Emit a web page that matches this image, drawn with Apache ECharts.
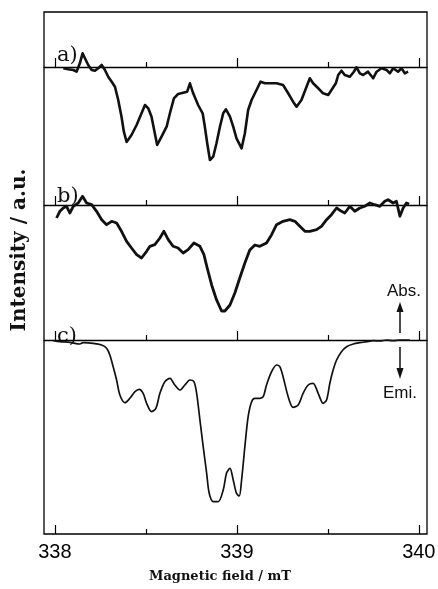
<!DOCTYPE html>
<html>
<head>
<meta charset="utf-8">
<script src="https://cdn.jsdelivr.net/npm/echarts@6/dist/echarts.min.js"></script>
<style>html,body{margin:0;padding:0;background:#fff}#c{width:438px;height:589px}</style>
</head>
<body>
<div id="c"></div>
<script>
// Magnetic field (mT) and intensity (a.u., baseline = 0, emission negative)
const fieldA = [338.046, 338.073, 338.101, 338.119, 338.137, 338.152, 338.165, 338.183, 338.202, 338.220, 338.238, 338.257, 338.275, 338.293, 338.312, 338.330, 338.348, 338.366, 338.379, 338.394, 338.421, 338.449, 338.476, 338.495, 338.513, 338.531, 338.549, 338.562, 338.586, 338.614, 338.632, 338.654, 338.677, 338.705, 338.727, 338.742, 338.760, 338.787, 338.812, 338.824, 338.837, 338.852, 338.870, 338.888, 338.907, 338.925, 338.940, 338.962, 338.980, 338.998, 339.026, 339.044, 339.062, 339.081, 339.108, 339.130, 339.154, 339.181, 339.218, 339.254, 339.282, 339.309, 339.328, 339.355, 339.383, 339.401, 339.419, 339.447, 339.474, 339.502, 339.520, 339.544, 339.557, 339.575, 339.593, 339.621, 339.643, 339.658, 339.676, 339.694, 339.721, 339.749, 339.768, 339.795, 339.823, 339.841, 339.859, 339.886, 339.905, 339.923, 339.941];
const intensityA = [-1.3, -2.3, -3, -4.7, 3.7, 13.7, 8.7, 2, -3, -3.7, -1.3, 2, -3, -9.7, -14.7, -19.7, -33, -49.7, -64.7, -75, -68, -58, -46.3, -38, -41.3, -49.7, -66.3, -78, -69.7, -59.7, -46.3, -31.3, -27, -25.7, -24.7, -16.3, -26.3, -38, -46.3, -59.7, -76.3, -93, -89.7, -76.3, -59.7, -46.3, -42.3, -49.7, -59.7, -71.3, -81.3, -66.3, -43, -33, -23, -14.7, -16.3, -16.3, -16.3, -18, -26.3, -34.7, -39.7, -33, -19.7, -11.3, -16.3, -21.3, -26.3, -28, -23, -16.3, -8, -3.7, -8, -9.7, -4.7, -0.3, -6.3, -8, -4.7, -11.3, -4.7, -1.3, -3, -6.3, -1.3, -4.7, -1.3, -6.3, -4.7];

const fieldB = [338.009, 338.027, 338.046, 338.064, 338.082, 338.101, 338.128, 338.152, 338.174, 338.202, 338.229, 338.257, 338.284, 338.312, 338.339, 338.366, 338.394, 338.421, 338.449, 338.476, 338.504, 338.522, 338.549, 338.577, 338.599, 338.623, 338.650, 338.677, 338.705, 338.732, 338.764, 338.797, 338.819, 338.837, 338.861, 338.888, 338.916, 338.934, 338.962, 338.989, 339.016, 339.044, 339.071, 339.099, 339.126, 339.163, 339.191, 339.218, 339.254, 339.291, 339.319, 339.346, 339.374, 339.401, 339.438, 339.465, 339.493, 339.520, 339.548, 339.575, 339.593, 339.621, 339.648, 339.676, 339.703, 339.731, 339.758, 339.786, 339.813, 339.831, 339.859, 339.877, 339.896, 339.914, 339.932, 339.947];
const intensityB = [-13, -6.3, -3, -1.3, -8, -1.3, 2, 8.7, 2, 0.3, -6.3, -14.7, -19.7, -16.3, -18, -26.3, -36.3, -43, -49.7, -53, -46.3, -41.3, -39.7, -33, -26.3, -34.7, -41.3, -43, -48, -44.7, -38, -41.3, -49.7, -63, -79.7, -94.7, -106, -106, -100, -88, -73, -58, -45, -40, -41.3, -38, -29.7, -19.7, -16.3, -14.7, -16.3, -21.3, -26.3, -26.3, -24.7, -21.3, -14.7, -9.7, -3, -6.3, -8, -1.3, -6.3, -3, -1.3, 2, 0.3, -1.3, 3.7, 5.3, 2, 3.7, -11.3, -3, 2, 1];

const fieldC = [337.991, 338.027, 338.082, 338.137, 338.155, 338.210, 338.257, 338.284, 338.302, 338.320, 338.339, 338.357, 338.385, 338.412, 338.440, 338.463, 338.485, 338.504, 338.531, 338.555, 338.577, 338.604, 338.632, 338.659, 338.687, 338.714, 338.742, 338.764, 338.779, 338.797, 338.815, 338.834, 338.848, 338.870, 338.897, 338.925, 338.943, 338.962, 338.980, 338.998, 339.013, 339.026, 339.044, 339.062, 339.081, 339.099, 339.126, 339.145, 339.163, 339.191, 339.218, 339.236, 339.254, 339.282, 339.309, 339.337, 339.364, 339.392, 339.419, 339.447, 339.474, 339.493, 339.511, 339.529, 339.548, 339.575, 339.603, 339.640, 339.676, 339.713, 339.749, 339.786, 339.823, 339.859, 339.896, 339.951];
const intensityC = [-0.7, -1.7, -2.3, -4, -2.7, -3.3, -5, -8.3, -15, -26.7, -40, -55, -62.7, -58.3, -51.7, -49.3, -53.3, -63.3, -71.7, -68.3, -53.3, -41.7, -38.3, -45, -50, -45, -40, -41.7, -53.3, -80, -106.7, -133.3, -153.3, -161.7, -161.7, -150, -133.3, -128.3, -140, -153.3, -156, -140, -106.7, -76.7, -61.7, -58.3, -58.3, -56.7, -45, -31.7, -25, -26.7, -36.7, -56.7, -67.3, -65, -53.3, -45, -43.3, -53.3, -63.3, -60, -43.3, -30, -20, -11.7, -6.7, -4, -2.7, -1.7, -0.7, -1, 0, -0.7, 0, 0];

const majorTicks = [338, 339, 340];
const minorTicks = [338.5, 339.5];
const tickLabels = [338, 339, 340];
const panelLabels = ['a)', 'b)', 'c)'];

const zip = (xs, ys) => xs.map((x, i) => [x, ys[i]]);
const X_MIN = 337.94, X_MAX = 340.045;

const grids = [
  {left: 44, right: 11, top: 12, bottom: 55, show: true, borderColor: '#000', borderWidth: 1.3, backgroundColor: 'transparent', outerBoundsMode: 'none'},
  {left: 44, right: 11, top: 12, height: 156, outerBoundsMode: 'none'},
  {left: 44, right: 11, top: 168, height: 152, outerBoundsMode: 'none'},
  {left: 44, right: 11, top: 303, height: 231, outerBoundsMode: 'none'}
];
const yRanges = [[0, 1], [-101, 55], [-115, 37], [-194, 37]];

function xAx(gi, ticks, len, withLine, labels, zeroIdx) {
  return {
    type: 'value', gridIndex: gi, min: X_MIN, max: X_MAX, position: 'bottom',
    axisLine: {show: withLine, onZero: gi !== 0, onZeroAxisIndex: zeroIdx, lineStyle: {color: '#000', width: 1.3}},
    axisTick: {show: true, inside: true, length: len, customValues: ticks, lineStyle: {color: '#000', width: 1.2}},
    axisLabel: labels ? {show: true, customValues: labels, color: '#000', fontSize: 20, fontFamily: 'Liberation Sans', margin: 8} : {show: false},
    splitLine: {show: false}
  };
}

const xAxes = [];
for (let g = 0; g < 4; g++) {
  xAxes.push(xAx(g, majorTicks, 9, g !== 0, g === 0 ? tickLabels : null, g));
  xAxes.push(xAx(g, minorTicks, 5, false, null, g + 4));
}
// primary value axes (0..3) and twin axes (4..7) used as zero references for the half-mT tick rows
const yAxes = yRanges.concat(yRanges).map((r, i) => ({type: 'value', gridIndex: i % 4, min: r[0], max: r[1], show: false, splitLine: {show: false}}));

function curve(name, gi, data, width, smooth) {
  return {
    name, type: 'line', xAxisIndex: gi * 2, yAxisIndex: gi, data, showSymbol: false, symbol: 'none',
    smooth: smooth, lineStyle: {color: '#111', width: width, join: 'round'}, silent: true, animation: false
  };
}

const serif = '"DejaVu Serif", serif';
const labelY = [45.5, 185.7, 325.7];
const graphics = panelLabels.map((t, i) => ({
  type: 'text', x: 57, y: labelY[i],
  style: {text: t, font: '21px ' + serif, fill: '#111', textAlign: 'left', textVerticalAlign: 'alphabetic'}
}));
graphics.push(
  {type: 'text', x: 20, y: 250, rotation: Math.PI / 2,
   style: {text: 'Intensity / a.u.', font: 'bold 20px ' + serif, fill: '#111', textAlign: 'center', textVerticalAlign: 'middle'}},
  {type: 'text', x: 220, y: 577,
   style: {text: 'Magnetic field / mT', font: 'bold 13px ' + serif, fill: '#111', textAlign: 'center', textVerticalAlign: 'middle'}},
  {type: 'text', x: 404, y: 291,
   style: {text: 'Abs.', font: '17px "Liberation Sans"', fill: '#111', textAlign: 'center', textVerticalAlign: 'middle'}},
  {type: 'text', x: 400, y: 393,
   style: {text: 'Emi.', font: '17px "Liberation Sans"', fill: '#111', textAlign: 'center', textVerticalAlign: 'middle'}},
  {type: 'line', shape: {x1: 400, y1: 311, x2: 400, y2: 333}, style: {stroke: '#111', lineWidth: 1.5}},
  {type: 'polygon', shape: {points: [[400, 302], [396.5, 312], [403.5, 312]]}, style: {fill: '#111'}},
  {type: 'line', shape: {x1: 400, y1: 347, x2: 400, y2: 369}, style: {stroke: '#111', lineWidth: 1.5}},
  {type: 'polygon', shape: {points: [[400, 379], [396.5, 368], [403.5, 368]]}, style: {fill: '#111'}}
);

const chart = echarts.init(document.getElementById('c'), null, {renderer: 'canvas'});
chart.setOption({
  animation: false,
  backgroundColor: '#fff',
  grid: grids,
  xAxis: xAxes,
  yAxis: yAxes,
  series: [
    curve('a', 1, zip(fieldA, intensityA), 2.6, false),
    curve('b', 2, zip(fieldB, intensityB), 2.8, false),
    curve('c', 3, zip(fieldC, intensityC), 1.7, 0.3)
  ],
  graphic: graphics
});
</script>
</body>
</html>
